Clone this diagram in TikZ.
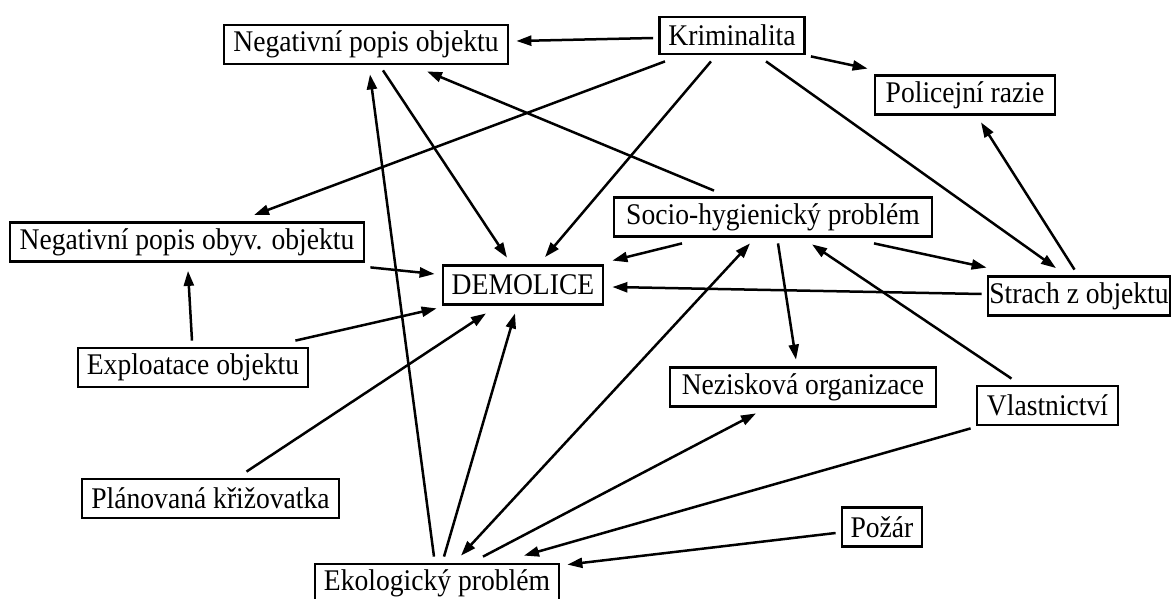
\documentclass[tikz,border=0pt]{standalone}
\usepackage{fontspec}
\setmainfont[FakeStretch=0.92]{Liberation Serif}
\usetikzlibrary{arrows.meta}

\begin{document}
\begin{tikzpicture}[x=1pt, y=-1pt, line width=2.5pt, >={Triangle[length=15pt, width=10pt]},
		box/.style={draw=black, text=black, shape=rectangle, line width=2.8pt, inner sep=0pt, minimum height=39pt, font=\fontsize{30}{34}\selectfont}]
	\useasboundingbox (0,0) rectangle (1171,599);

	% uzly
	\node[box, minimum width=284pt] (npo) at (366,44.5) {Negativní popis objektu};
	\node[box, minimum width=145pt, minimum height=37pt] (krim) at (732,35.5) {Kriminalita};
	\node[box, minimum width=180pt] (polic) at (965,95) {Policejní razie};
	\node[box, minimum width=318pt] (shp) at (773,217) {Socio-hygienický problém};
	\node[box, minimum width=354pt] (npoo) at (187,242) {Negativní popis obyv. objektu};
	\node[box, minimum width=160pt] (dem) at (523,285) {DEMOLICE};
	\node[box, minimum width=182pt] (strach) at (1079,296) {Strach z objektu};
	\node[box, minimum width=230pt] (expl) at (193,367.5) {Exploatace objektu};
	\node[box, minimum width=266pt] (nez) at (803,387) {Nezisková organizace};
	\node[box, minimum width=141pt] (vlast) at (1047.5,405.5) {Vlastnictví};
	\node[box, minimum width=257pt] (plan) at (210.5,498.5) {Plánovaná křižovatka};
	\node[box, minimum width=244pt] (ekol) at (437,583.5) {Ekologický problém};
	\node[box, minimum width=80pt] (pozar) at (882,527) {Požár};

	% vazby
	\draw[->] ([xshift=-5pt, yshift=-2.5pt]krim.west) -- ([xshift=7pt, yshift=3.5pt]npo.east);
	\draw[->] ([xshift=5pt, yshift=-1pt]krim.south east) -- ([xshift=-6pt, yshift=5.5pt]polic.north west);
	\draw[->] ([xshift=-67pt, yshift=-6pt]krim.south) -- ([xshift=67pt, yshift=6pt]npoo.north);
	\draw[->] ([xshift=-21pt, yshift=-6pt]krim.south) -- ([xshift=22pt, yshift=7pt]dem.north);
	\draw[->] ([xshift=34pt, yshift=-6pt]krim.south) -- ([xshift=-23pt, yshift=7pt]strach.north);
	\draw[->] ([xshift=17pt, yshift=-5pt]npo.south) -- ([xshift=-16pt, yshift=6.5pt]dem.north);
	\draw[->] ([xshift=-59pt, yshift=5.5pt]shp.north) -- ([xshift=61pt, yshift=-6pt]npo.south);
	\draw[->] ([xshift=-3pt, yshift=6pt]ekol.north) -- ([xshift=4pt, yshift=-9pt]npo.south);
	\draw[->] ([xshift=5pt, yshift=-4.5pt]npoo.south east) -- ([xshift=-7pt, yshift=11pt]dem.west);
	\draw[->] ([xshift=-1pt, yshift=6pt]expl.north) -- ([xshift=1pt, yshift=-8pt]npoo.south);
	\draw[->] ([xshift=-14pt, yshift=6pt]expl.north east) -- ([xshift=-5pt, yshift=-2.5pt]dem.south west);
	\draw[->] ([xshift=36pt, yshift=6pt]plan.north) -- ([xshift=-37pt, yshift=-7.5pt]dem.south);
	\draw[->] ([xshift=7pt, yshift=6pt]ekol.north) -- ([xshift=-8pt, yshift=-7.5pt]dem.south);
	\draw[->] ([xshift=-91pt, yshift=-5.5pt]shp.south) -- ([xshift=8pt, yshift=3.5pt]dem.north east);
	\draw[->] ([xshift=-5pt, yshift=2pt]strach.west) -- ([xshift=8pt, yshift=-2pt]dem.east);
	\draw[->] ([xshift=101pt, yshift=-5.5pt]shp.south) -- ([yshift=7.5pt]strach.north west);
	\draw[->] ([xshift=-4.5pt, yshift=5.5pt]strach.north) -- ([xshift=16pt, yshift=-6.5pt]polic.south);
	\draw[->] ([xshift=5pt, yshift=-5.5pt]shp.south) -- ([xshift=-7pt, yshift=6.5pt]nez.north);
	\draw[->] ([xshift=-36pt, yshift=6pt]vlast.north) -- ([xshift=39pt, yshift=-6.5pt]shp.south);
	\draw[<->] ([xshift=24pt, yshift=7pt]ekol.north) -- ([xshift=-23pt, yshift=-5.5pt]shp.south);
	\draw[->] ([xshift=46pt, yshift=6pt]ekol.north) -- ([xshift=-47pt, yshift=-5.5pt]nez.south);
	\draw[->] ([xshift=-5pt, yshift=-2pt]vlast.south west) -- ([xshift=87pt, yshift=7pt]ekol.north);
	\draw[->] ([xshift=-5pt, yshift=-6pt]pozar.west) -- ([xshift=7pt, yshift=-2pt]ekol.north east);
\end{tikzpicture}
\end{document}
